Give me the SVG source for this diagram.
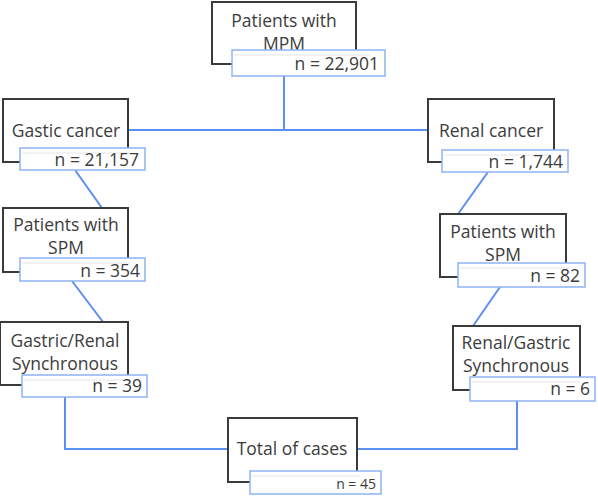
<svg xmlns="http://www.w3.org/2000/svg" width="598" height="496" viewBox="0 0 598 496">
<style>
.box{fill:#fff;stroke:#3a3a3a;stroke-width:2}
.nb{fill:#fff;stroke:#8fb2f5;stroke-width:1.5}
.sep{stroke:#e4e4e4;stroke-width:1}
.t{font-family:"Open Sans","Liberation Sans",sans-serif;font-size:17.5px;fill:#3c3c3c;text-anchor:middle}
.n{font-family:"Open Sans","Liberation Sans",sans-serif;font-size:17.5px;fill:#3c3c3c;text-anchor:end}
.c{fill:none;stroke:#5b8ff0;stroke-width:2}
</style>
<rect width="598" height="496" fill="#fff"/>
<g id="connectors">
<polyline class="c" points="284,76 284,130"/>
<line class="c" x1="128" y1="130" x2="428" y2="130"/>
<line class="c" x1="75" y1="170" x2="102" y2="208"/>
<line class="c" x1="72" y1="281" x2="103" y2="322"/>
<polyline class="c" points="65,397 65,449 228,449"/>
<polyline class="c" points="357,449 517,449 517,401"/>
<line class="c" x1="488" y1="172" x2="458" y2="214"/>
<line class="c" x1="500" y1="287" x2="473" y2="326"/>
</g>
<g id="n1">
<rect class="box" x="212" y="2" width="144" height="62"/>
<text class="t" x="284" y="27">Patients with</text>
<text class="t" x="284" y="49.5">MPM</text>
<rect class="nb" x="232" y="50" width="153" height="26"/>
<line class="sep" x1="234" y1="55" x2="370" y2="55"/>
<text class="n" x="379" y="70">n = 22,901</text>
</g>
<g id="n2">
<rect class="box" x="3" y="99" width="125" height="63"/>
<text class="t" x="66" y="137">Gastic cancer</text>
<rect class="nb" x="20" y="148" width="125" height="22"/>
<line class="sep" x1="22" y1="153" x2="130" y2="153"/>
<text class="n" x="139" y="166">n = 21,157</text>
</g>
<g id="n3">
<rect class="box" x="428" y="99" width="126" height="63"/>
<text class="t" x="491" y="137">Renal cancer</text>
<rect class="nb" x="442" y="150" width="126" height="22"/>
<line class="sep" x1="444" y1="155" x2="550" y2="155"/>
<text class="n" x="563" y="168">n = 1,744</text>
</g>
<g id="n4">
<rect class="box" x="3" y="208" width="125" height="64"/>
<text class="t" x="66" y="231">Patients with</text>
<text class="t" x="66" y="253.5">SPM</text>
<rect class="nb" x="20" y="258" width="125" height="23"/>
<line class="sep" x1="22" y1="263" x2="130" y2="263"/>
<text class="n" x="140" y="277">n = 354</text>
</g>
<g id="n5">
<rect class="box" x="440" y="214" width="126" height="63"/>
<text class="t" x="503" y="238">Patients with</text>
<text class="t" x="503" y="260.5">SPM</text>
<rect class="nb" x="458" y="263" width="127" height="24"/>
<line class="sep" x1="460" y1="268" x2="570" y2="268"/>
<text class="n" x="580" y="282">n = 82</text>
</g>
<g id="n6">
<rect class="box" x="0" y="322" width="128" height="63"/>
<text class="t" x="65" y="347">Gastric/Renal</text>
<text class="t" x="65" y="369.5">Synchronous</text>
<rect class="nb" x="22" y="375" width="125" height="22"/>
<line class="sep" x1="24" y1="380" x2="130" y2="380"/>
<text class="n" x="142" y="392">n = 39</text>
</g>
<g id="n7">
<rect class="box" x="453" y="326" width="127" height="64"/>
<text class="t" x="516" y="349">Renal/Gastric</text>
<text class="t" x="516" y="371.5">Synchronous</text>
<rect class="nb" x="470" y="377" width="125" height="24"/>
<line class="sep" x1="472" y1="382" x2="580" y2="382"/>
<text class="n" x="590" y="395">n = 6</text>
</g>
<g id="n8">
<rect class="box" x="228" y="418" width="129" height="64"/>
<text class="t" x="292" y="455">Total of cases</text>
<rect class="nb" x="250" y="471" width="131" height="23"/>
<line class="sep" x1="252" y1="476" x2="360" y2="476"/>
<text class="n" x="376" y="489" style="font-size:14px">n = 45</text>
</g>
</svg>
